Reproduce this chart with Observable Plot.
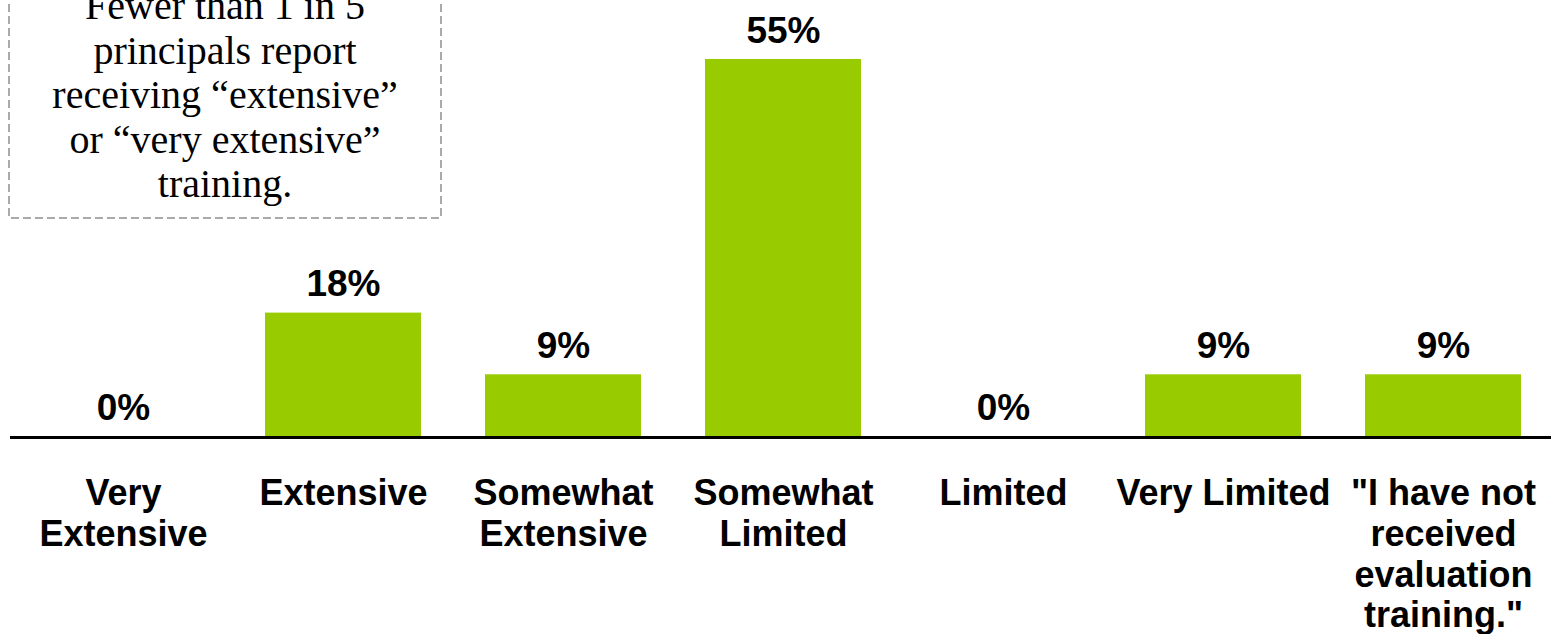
<!DOCTYPE html>
<html>
<head>
<meta charset="utf-8">
<script src="https://cdn.jsdelivr.net/npm/d3@7"></script>
<script src="https://cdn.jsdelivr.net/npm/@observablehq/plot@0.6"></script>
<style>
  html, body { margin: 0; padding: 0; background: #fff; overflow: hidden; }
  #wrap { position: relative; width: 1551px; height: 634px; }
  #note-box { position: absolute; left: 0; top: 0; }
  #note-text {
    position: absolute; left: 9px; width: 432px; top: -16px;
    text-align: center; font-family: "Liberation Serif", "DejaVu Serif", serif;
    font-size: 40px; line-height: 44.6px; color: #000; white-space: nowrap;
  }
</style>
</head>
<body>
<div id="wrap"></div>
<script>
// ---- data ----
const categories = ["Very Extensive", "Extensive", "Somewhat Extensive", "Somewhat Limited", "Limited", "Very Limited", "I have not received evaluation training."];
const tickLabels = ["Very\nExtensive", "Extensive", "Somewhat\nExtensive", "Somewhat\nLimited", "Limited", "Very Limited", "\"I have not\nreceived\nevaluation\ntraining.\""];
const values = [0, 18, 9, 55, 0, 9, 9];
const valueLabels = ["0%", "18%", "9%", "55%", "0%", "9%", "9%"];
const annotationLines = ["Fewer than 1 in 5", "principals report", "receiving \u201cextensive\u201d", "or \u201cvery extensive\u201d", "training."];

const data = categories.map((c, i) => ({ category: c, value: values[i], valueLabel: valueLabels[i], tick: tickLabels[i] }));

const chart = Plot.plot({
  width: 1551,
  height: 634,
  marginLeft: 10, marginRight: 0, marginTop: 0, marginBottom: 0,
  style: { fontFamily: "'Liberation Sans', Arial, sans-serif", background: "white", color: "black" },
  x: { domain: categories, range: [11, 1556], paddingInner: 0.29, paddingOuter: 0.145, axis: null },
  y: { domain: [0, 55], range: [436, 59], axis: null },
  marks: [
    Plot.barY(data, { x: "category", y: "value", fill: "#99CC00" }),
    Plot.ruleY([0], { stroke: "black", strokeWidth: 3, dy: 1 }),
    Plot.text(data, { x: "category", y: "value", text: "valueLabel", dy: -17, lineAnchor: "bottom", fontSize: 37, fontWeight: "bold", fill: "black" }),
    Plot.text(data, { x: "category", y: () => 0, text: "tick", lineAnchor: "top", dy: 40, fontSize: 36, lineHeight: 1.13, fontWeight: "bold", fill: "black" })
  ]
});

const wrap = document.getElementById("wrap");
wrap.appendChild(chart);

// annotation box (dashed frame)
const ns = "http://www.w3.org/2000/svg";
const boxSvg = document.createElementNS(ns, "svg");
boxSvg.setAttribute("id", "note-box");
boxSvg.setAttribute("width", 460);
boxSvg.setAttribute("height", 230);
const rect = document.createElementNS(ns, "rect");
rect.setAttribute("x", 9);
rect.setAttribute("y", -20);
rect.setAttribute("width", 432);
rect.setAttribute("height", 238);
rect.setAttribute("fill", "none");
rect.setAttribute("stroke", "#8f8f8f");
rect.setAttribute("stroke-width", 1.5);
rect.setAttribute("stroke-dasharray", "8,4");
boxSvg.appendChild(rect);
wrap.appendChild(boxSvg);

const note = document.createElement("div");
note.id = "note-text";
note.innerHTML = annotationLines.join("<br>");
wrap.appendChild(note);
</script>
</body>
</html>
